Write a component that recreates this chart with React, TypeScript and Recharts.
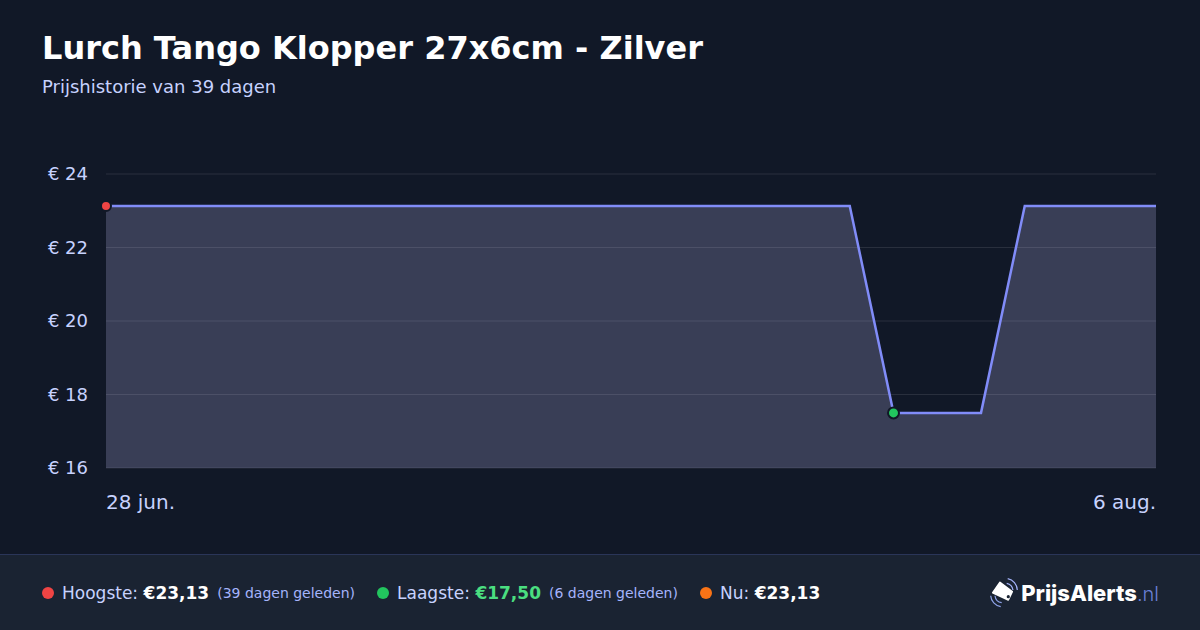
import React from "react";
import { AreaChart, Area, XAxis, YAxis, CartesianGrid, ReferenceDot } from "recharts";

const dates = ["28 jun.","30 jun.","1 jul.","3 jul.","4 jul.","6 jul.","8 jul.","9 jul.","11 jul.","13 jul.","14 jul.","16 jul.","18 jul.","19 jul.","21 jul.","22 jul.","24 jul.","26 jul.","27 jul.","29 jul.","31 jul.","1 aug.","3 aug.","4 aug.","6 aug."];
const prices = [23.13,23.13,23.13,23.13,23.13,23.13,23.13,23.13,23.13,23.13,23.13,23.13,23.13,23.13,23.13,23.13,23.13,23.13,17.5,17.5,17.5,23.13,23.13,23.13,23.13];
const yTicks = [16, 18, 20, 22, 24];
const xTicks = ["28 jun.", "6 aug."];
const rows = dates.map((date, i) => ({ date, price: prices[i] }));

const FONT = "'DejaVu Sans', sans-serif";

const XTick = (props: any) => {
  const { x, y, payload } = props;
  const first = payload.value === xTicks[0];
  return (
    <text x={x} y={y} textAnchor={first ? "start" : "end"} dominantBaseline="central" fill="#c7d2fe" fontSize={20} fontFamily={FONT}>
      {payload.value}
    </text>
  );
};

const Dot = (props: any) => {
  const { cx, cy, r, fill } = props;
  return <circle cx={cx} cy={cy} r={r} fill={fill} stroke="#111827" strokeWidth={2} />;
};

const Legend = ({ color, label, value, valueColor, note }: any) => (
  <div style={{ display: "flex", alignItems: "center", marginRight: 22 }}>
    <span style={{ width: 12, height: 12, borderRadius: 6, background: color, marginRight: 8 }} />
    <span style={{ fontSize: 17, color: "#c7d2fe" }}>{label}</span>
    <span style={{ fontSize: 17, fontWeight: 700, color: valueColor, marginLeft: 5.5 }}>{value}</span>
    {note ? <span style={{ fontSize: 14, color: "#a5b4fc", marginLeft: 8 }}>{note}</span> : null}
  </div>
);

export default function App() {
  return (
    <div style={{ position: "fixed", left: 0, top: 0, width: 1200, height: 630, background: "#111827", fontFamily: FONT, overflow: "hidden" }}>
      <div style={{ position: "absolute", left: 42, top: 27, fontSize: 32, lineHeight: "42px", fontWeight: 700, color: "#ffffff", whiteSpace: "nowrap" }}>
        Lurch Tango Klopper 27x6cm - Zilver
      </div>
      <div style={{ position: "absolute", left: 42, top: 76, fontSize: 18, lineHeight: "22px", color: "#c7d2fe" }}>
        Prijshistorie van 39 dagen
      </div>
      <div style={{ position: "absolute", left: 0, top: 0 }}>
        <AreaChart width={1200} height={554} data={rows} margin={{ top: 174, right: 44, bottom: 16, left: 46 }}>
          <CartesianGrid vertical={false} stroke="#ffffff" strokeOpacity={0.1} strokeWidth={1} />
          <XAxis dataKey="date" ticks={xTicks} interval={0} tick={<XTick />} tickLine={false} axisLine={false} height={70} tickMargin={28} />
          <YAxis type="number" domain={[16, 24]} ticks={yTicks} width={60} tickFormatter={(v: number) => `€ ${v}`} tick={{ fill: "#c7d2fe", fontSize: 18, fontFamily: FONT }} tickLine={false} axisLine={false} tickMargin={18} tickSize={0} />
          <Area type="linear" dataKey="price" stroke="#818cf8" strokeWidth={2.5} fill="#c8c8ff" fillOpacity={0.22} isAnimationActive={false} dot={false} activeDot={false} />
          <ReferenceDot x="28 jun." y={23.13} r={5} fill="#ef4444" ifOverflow="visible" shape={<Dot />} />
          <ReferenceDot x="27 jul." y={17.5} r={5.5} fill="#22c55e" ifOverflow="visible" shape={<Dot />} />
        </AreaChart>
      </div>
      <div style={{ position: "absolute", left: 0, top: 554, width: 1200, height: 76, background: "#1a2332", borderTop: "1px solid #2a3558", boxSizing: "border-box", display: "flex", alignItems: "center", paddingLeft: 42 }}>
        <Legend color="#ef4444" label="Hoogste:" value="€23,13" valueColor="#ffffff" note="(39 dagen geleden)" />
        <Legend color="#22c55e" label="Laagste:" value="€17,50" valueColor="#4ade80" note="(6 dagen geleden)" />
        <Legend color="#f97316" label="Nu:" value="€23,13" valueColor="#ffffff" />
      </div>
      <svg style={{ position: "absolute", left: 988, top: 576 }} width={32} height={32} viewBox="0 0 32 32">
        <path d="M12 6.3 L24.3 15.7 L20.3 24 L4.7 16.7 Z" fill="#ffffff" stroke="#ffffff" strokeWidth="1.5" strokeLinejoin="round" />
        <circle cx="20.3" cy="20.7" r="1.6" fill="#1a2332" />
        <path d="M18.7 7.3 A8 8 0 0 1 25 14" fill="none" stroke="#a5b4fc" strokeWidth="1.2" />
        <path d="M19.7 2.7 A12 12 0 0 1 29.3 14" fill="none" stroke="#a5b4fc" strokeWidth="1.2" />
        <path d="M7 19.7 A8 8 0 0 0 13.7 26.7" fill="none" stroke="#8ea2e8" strokeWidth="1.2" />
        <path d="M2.7 19.7 A12 12 0 0 0 12.7 30.7" fill="none" stroke="#8ea2e8" strokeWidth="1.2" />
      </svg>
      <div style={{ position: "absolute", right: 41, top: 579, lineHeight: "28px", fontSize: 22, fontFamily: "Inter, sans-serif", whiteSpace: "nowrap" }}>
        <span style={{ fontWeight: 800, color: "#ffffff" }}>PrijsAlerts</span>
        <span style={{ fontWeight: 300, fontSize: 20, color: "#6b80d8" }}>.nl</span>
      </div>
    </div>
  );
}
